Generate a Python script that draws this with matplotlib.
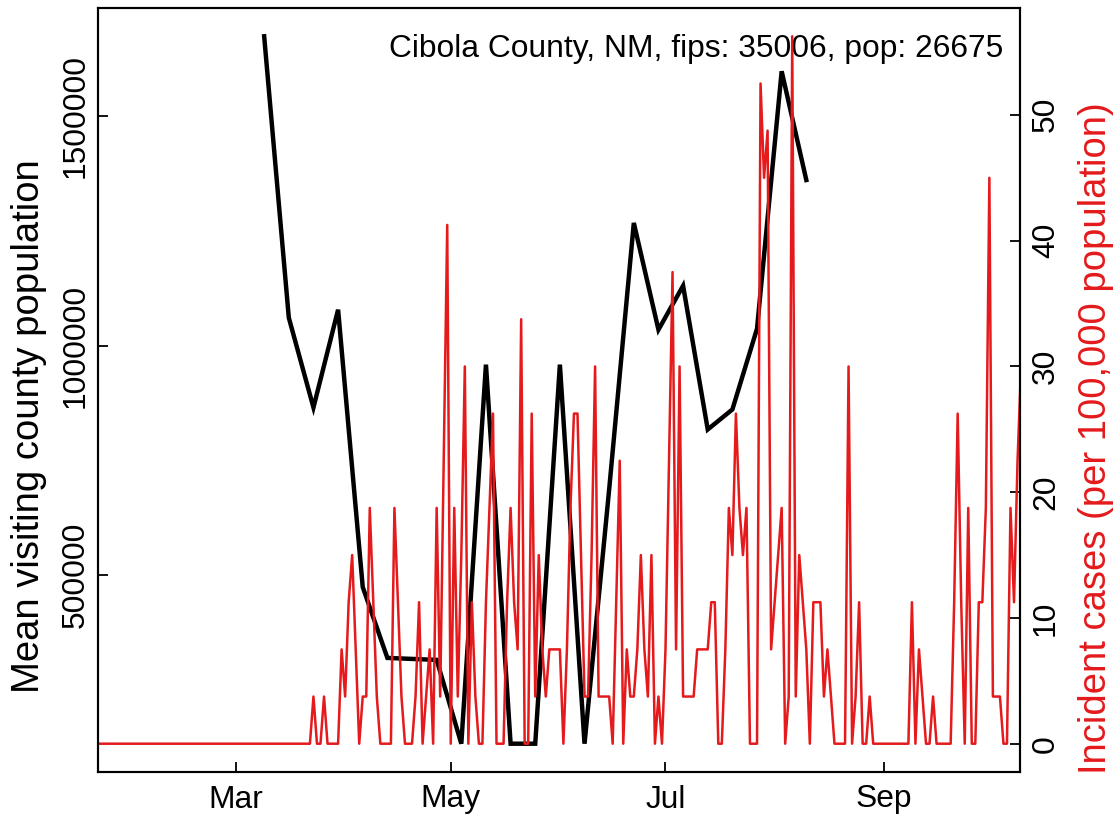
import numpy as np
import pandas as pd
import matplotlib
matplotlib.use("Agg")
import matplotlib.pyplot as plt
import matplotlib.dates as mdates

plt.rcParams['font.family'] = ['Liberation Sans', 'DejaVu Sans']

#%% Dados
county_label = "Cibola County, NM, fips: 35006, pop: 26675"
population = 26675

# media semanal da populacao visitante (segundas-feiras)
visit_start = "2020-03-09"
visit_pop = [1675000, 1061000, 865000, 1078400, 473200, 318600, 316400, 314300,
             131400, 958600, 131400, 131400, 958600, 131400, 686500, 1267800,
             1034800, 1130600, 817100, 860700, 1037000, 1598700, 1361400]

# casos diarios (contagem) a partir de 22/jan
case_start = "2020-01-22"
daily_cases = [0] * 61 + [
    1, 0, 0, 1, 0, 0, 0, 0, 2, 1, 3, 4, 2, 0, 1, 1, 5, 3, 1, 0,   # 22-41
    0, 0, 0, 5, 3, 1, 0, 0, 0, 1, 3, 0, 1, 2, 0, 5, 1, 6, 11, 0,  # 42-61
    5, 1, 4, 8, 0, 3, 1, 0, 0, 3, 5, 7, 0, 0, 0, 3, 5, 3, 2, 9,   # 62-81
    0, 0, 7, 1, 4, 2, 1, 2, 2, 2, 2, 0, 2, 5, 7, 7, 4, 1, 1, 4,   # 82-101
    8, 1, 1, 1, 1, 0, 3, 6, 0, 2, 1, 1, 2, 4, 2, 1, 4, 0, 1, 0,   # 102-121
    2, 6, 10, 2, 8, 1, 1, 1, 1, 2, 2, 2, 2, 3, 3, 0, 0, 2, 5, 4,  # 122-141
    7, 5, 4, 5, 0, 0, 0, 14, 12, 13, 2, 3, 4, 5, 0, 1, 15, 1, 4, 3,  # 142-161
    2, 0, 3, 3, 3, 1, 2, 1, 0, 0, 0, 0, 8, 0, 1, 3, 0, 0, 1, 0,   # 162-181
    0, 0, 0, 0, 0, 0, 0, 0, 0, 0, 3, 0, 2, 1, 0, 0, 1, 0, 0, 0,   # 182-201
    0, 0, 3, 7, 3, 0, 5, 0, 0, 3, 3, 5, 12, 1, 1, 1, 0, 0, 5, 3,  # 202-221
    6, 8]                                                          # 222-223

month_ticks = ["2020-03-01", "2020-05-01", "2020-07-01", "2020-09-01"]
month_labels = ["Mar", "May", "Jul", "Sep"]

#%% Preparacao
visit_dates = pd.date_range(visit_start, periods=len(visit_pop), freq="7D")
case_dates = pd.date_range(case_start, periods=len(daily_cases), freq="D")
incidence = np.array(daily_cases) * 1e5 / population

def r_lim(v):
    # limites como no R (expansao de 4%)
    lo, hi = np.min(v), np.max(v)
    d = 0.04 * (hi - lo)
    return lo - d, hi + d

red = '#E41A1C'
fs = 22.9      # eixos e texto
fs_lab = 27.5  # titulos dos eixos

#%% Grafico
fig = plt.figure(figsize=(11.19, 8.17), dpi=100)
ax = fig.add_axes([98 / 1119, 45 / 817, 922 / 1119, 764 / 817])

ax.plot(visit_dates, visit_pop, color='black', lw=3.2, solid_joinstyle='miter')
ax.set_ylim(*r_lim(visit_pop))
ax.set_yticks([500000, 1000000, 1500000])
ax.set_yticklabels(["500000", "1000000", "1500000"])
ax.set_ylabel("Mean visiting county population", fontsize=fs_lab, labelpad=10)
ax.yaxis.label.set_y(0.453)

x0 = pd.Timestamp("2020-03-01")
ax.set_xlim(mdates.date2num(x0 - pd.Timedelta(days=39.2)),
            mdates.date2num(x0 + pd.Timedelta(days=222.7)))
ax.set_xticks(mdates.date2num(pd.to_datetime(month_ticks)))
ax.set_xticklabels(month_labels)

ax2 = ax.twinx()
ax2.plot(case_dates, incidence, color=red, lw=1.8)
ax2.set_ylim(*r_lim(incidence))
ax2.set_yticks([0, 10, 20, 30, 40, 50])
ax2.set_ylabel("Incident cases (per 100,000 population)", color=red,
               fontsize=fs_lab, labelpad=12, rotation=90)
ax2.yaxis.label.set_y(0.437)
ax2.set_xlim(ax.get_xlim())

ax.tick_params(axis='x', direction='in', length=7.5, width=1.3, labelsize=fs, pad=9)
ax.tick_params(axis='y', direction='in', length=7.5, width=1.3, labelsize=fs,
               pad=5, labelrotation=90)
ax2.tick_params(axis='y', direction='in', length=7.5, width=1.3, labelsize=fs,
                pad=8, labelrotation=90)
for lab in ax.get_yticklabels() + ax2.get_yticklabels():
    lab.set_va('center')

for a in (ax, ax2):
    for s in a.spines.values():
        s.set_linewidth(1.5)

ax.text(0.982, 0.936, county_label, transform=ax.transAxes, ha='right',
        va='baseline', fontsize=fs, zorder=5)

fig.savefig("out.png", dpi=100)
